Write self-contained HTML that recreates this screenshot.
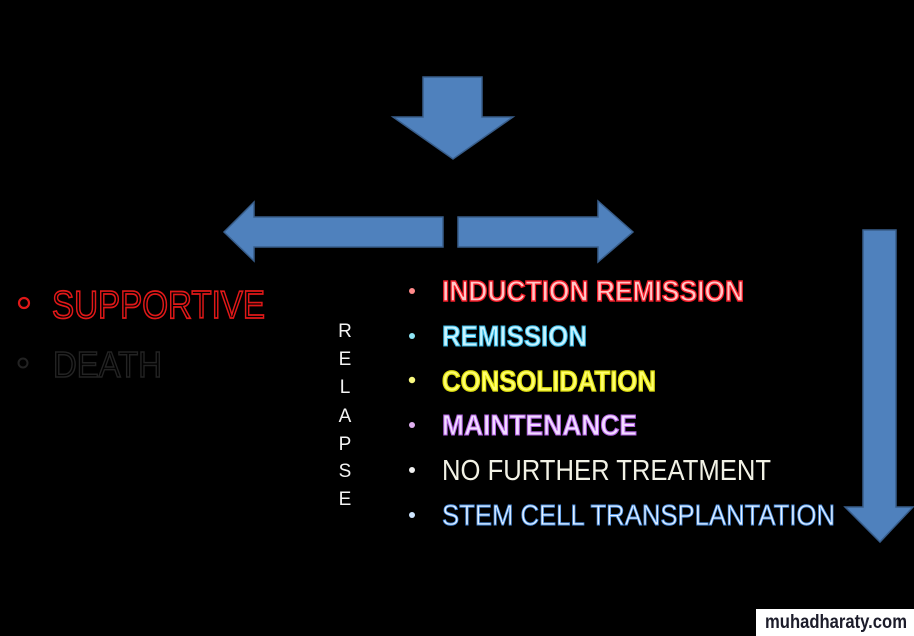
<!DOCTYPE html>
<html><head><meta charset="utf-8"><style>
html,body{margin:0;padding:0;background:#000;}
svg{display:block;}
</style></head><body>
<svg width="914" height="636" viewBox="0 0 914 636" xmlns="http://www.w3.org/2000/svg">
<rect width="914" height="636" fill="#000"/>
<g fill="#4f81bd" stroke="#385d8a" stroke-width="1.5" stroke-linejoin="miter">
<polygon points="423,77 482,77 482,117 513,117 453,159 393,117 423,117"/>
<polygon points="443,217 254,217 254,202 224,232 254,261 254,247 443,247"/>
<polygon points="458,217 598,217 598,201 633,232 598,262 598,247 458,247"/>
<polygon points="863,230 896,230 896,507 913,507 880,542 845,507 863,507"/>
</g>
<g font-family="Liberation Sans, sans-serif">
<circle cx="24" cy="303" r="5" fill="none" stroke="#e01818" stroke-width="2.2"/>
<text x="52" y="318" font-size="39" textLength="213" lengthAdjust="spacingAndGlyphs" fill="none" stroke="#e01818" stroke-width="1.7">SUPPORTIVE</text>
<circle cx="23" cy="363" r="4.5" fill="none" stroke="#222" stroke-width="2"/>
<text x="53" y="377" font-size="36" textLength="109" lengthAdjust="spacingAndGlyphs" fill="none" stroke="#232323" stroke-width="1.5">DEATH</text>

<g font-size="19" fill="#f4f4f4" text-anchor="middle">
<text x="345" y="337">R</text>
<text x="345" y="365">E</text>
<text x="345" y="393">L</text>
<text x="345" y="422">A</text>
<text x="345" y="450">P</text>
<text x="345" y="477">S</text>
<text x="345" y="505">E</text>
</g>

<circle cx="412" cy="291" r="3" fill="#ff8a8a"/>
<text x="442" y="301" font-size="29" font-weight="bold" textLength="302" lengthAdjust="spacingAndGlyphs" fill="#ffc8c8" stroke="#f01c28" stroke-width="1.4">INDUCTION REMISSION</text>
<circle cx="412" cy="336" r="3" fill="#8fe6f6"/>
<text x="442" y="346" font-size="29" font-weight="bold" textLength="145" lengthAdjust="spacingAndGlyphs" fill="#c8f4ff" stroke="#34b4e0" stroke-width="1.1">REMISSION</text>
<circle cx="412" cy="380" r="3.2" fill="#f8f880"/>
<text x="442" y="391" font-size="29" font-weight="bold" textLength="214" lengthAdjust="spacingAndGlyphs" fill="#ffff70" stroke="#e0e010" stroke-width="1.3">CONSOLIDATION</text>
<circle cx="412" cy="425" r="3" fill="#e0b0f0"/>
<text x="442" y="435" font-size="29" font-weight="bold" textLength="195" lengthAdjust="spacingAndGlyphs" fill="#f2dcff" stroke="#b060e0" stroke-width="1.1">MAINTENANCE</text>
<circle cx="412" cy="470" r="3" fill="#f0f0f0"/>
<text x="442" y="480" font-size="29" textLength="329" lengthAdjust="spacingAndGlyphs" fill="#f2f2e6">NO FURTHER TREATMENT</text>
<circle cx="412" cy="515" r="3" fill="#cfe6ff"/>
<text x="442" y="525" font-size="29" textLength="393" lengthAdjust="spacingAndGlyphs" fill="#e6f2ff" stroke="#4a8ee0" stroke-width="0.9">STEM CELL TRANSPLANTATION</text>
</g>

<rect x="756" y="609" width="158" height="27" fill="#ffffff"/>
<text x="765" y="628" font-family="Liberation Sans, sans-serif" font-size="19" font-weight="bold" fill="#1c1c2a" textLength="142" lengthAdjust="spacingAndGlyphs">muhadharaty.com</text>
</svg>
</body></html>
